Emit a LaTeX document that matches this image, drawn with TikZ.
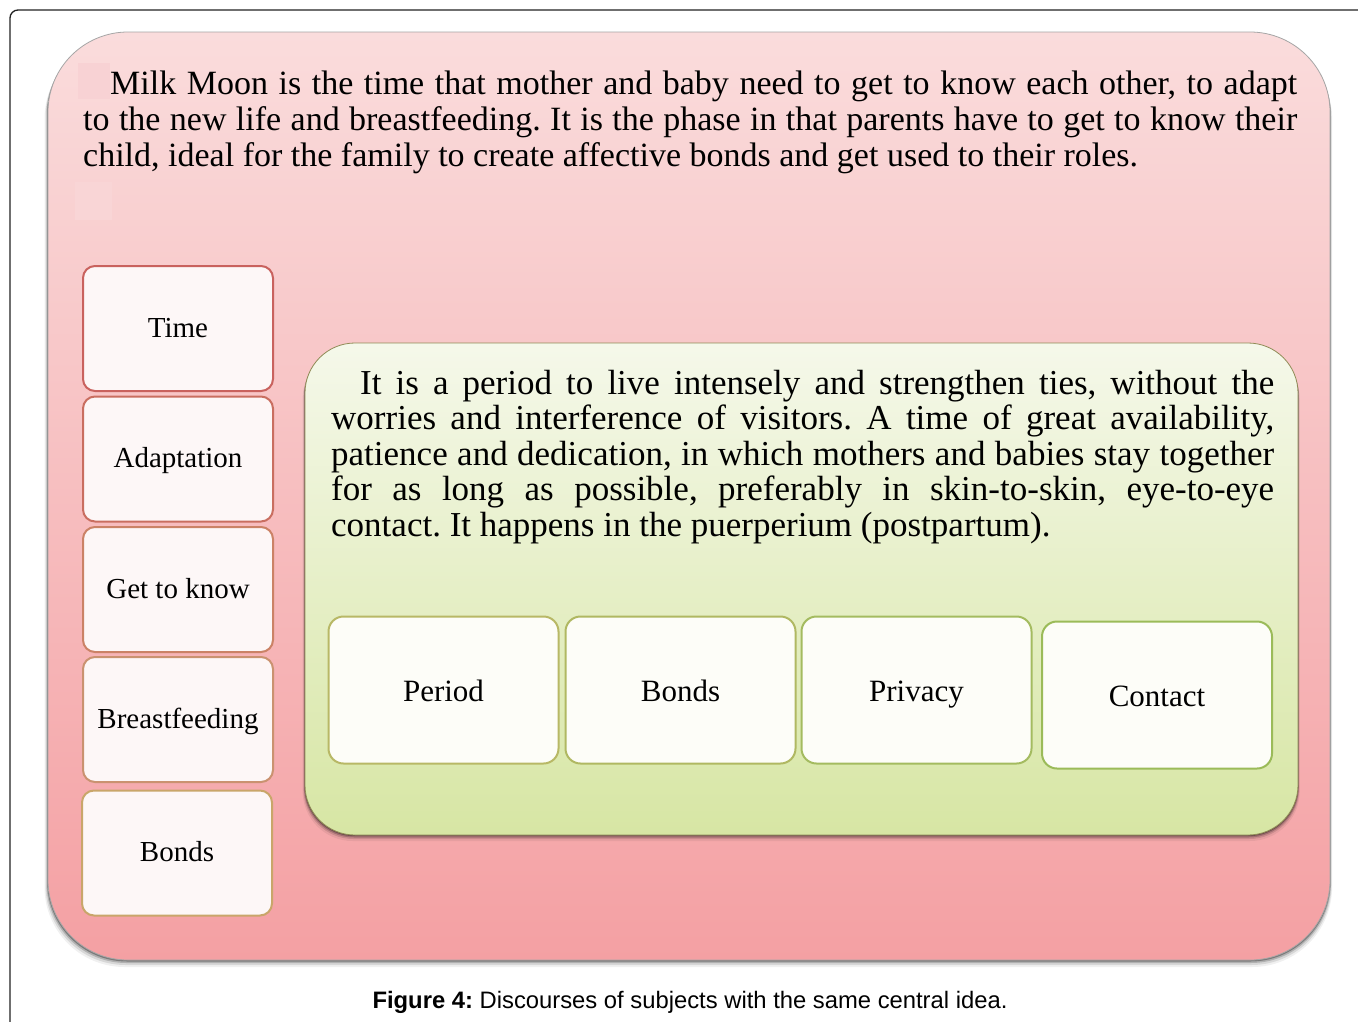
\documentclass[tikz,border=0pt]{standalone}
\usepackage{fontspec}
\setmainfont{Liberation Serif}
\newfontfamily\capfont{Liberation Sans}
\frenchspacing
\definecolor{pinkTop}{HTML}{FADCDC}
\definecolor{pinkBot}{HTML}{F4A0A3}
\definecolor{greenTop}{HTML}{F5F8EA}
\definecolor{greenBot}{HTML}{D7E6A4}
\definecolor{lbFill}{HTML}{FDF7F7}
\definecolor{sbFill}{HTML}{FDFDF8}
\definecolor{bTime}{HTML}{C9625E}
\definecolor{bAdapt}{HTML}{C96E60}
\definecolor{bKnow}{HTML}{CB8266}
\definecolor{bBreast}{HTML}{CA9270}
\definecolor{bBonds}{HTML}{C9A66A}
\definecolor{bPeriod}{HTML}{B8B866}
\definecolor{bBonds2}{HTML}{B0B862}
\definecolor{bPrivacy}{HTML}{A4BB60}
\definecolor{bContact}{HTML}{9BBB59}
\definecolor{frameCol}{HTML}{222222}
\definecolor{artifact}{HTML}{F8D2D4}
\tikzset{
  leftbox/.style={draw, line width=2pt, fill=lbFill, rounded corners=12pt,
    minimum width=190pt, minimum height=125pt, inner sep=0pt,
    text height=20pt, text depth=3pt,
    font=\fontsize{29}{32}\selectfont},
  subbox/.style={draw, line width=2pt, fill=sbFill, rounded corners=15pt,
    minimum width=230pt, minimum height=147pt, inner sep=0pt,
    text height=22pt, text depth=0pt,
    font=\fontsize{31}{34}\selectfont},
  paratext/.style={inner sep=0pt, align=justify, anchor=base west}
}
\begin{document}
\begin{tikzpicture}[x=1pt,y=-1pt]
\useasboundingbox (0,0) rectangle (1358,1021);
\fill[white] (0,0) rectangle (1358,1021);
% outer frame
\draw[frameCol, line width=1.3pt, rounded corners=8pt] (10,1030) -- (10,10) -- (1370,10);
% pink box shadow
\foreach \o/\a in {7/0.06,5/0.10,3/0.18,1.5/0.3}{
  \fill[black, opacity=\a, rounded corners=80pt] (48-0.5*\o,32+\o) rectangle (1330+0.3*\o,960+\o);
}
\shade[top color=pinkTop, bottom color=pinkBot, rounded corners=80pt, draw=gray!70, line width=0.8pt]
  (48,32) rectangle (1330,960);
\fill[artifact] (78,63) rectangle (110,99);
\fill[artifact!70!pinkTop] (75,182) rectangle (112,220);
% top text
\node[paratext, text width=1214pt, font=\fontsize{34}{36}\selectfont] (toptext) at (83,94)
  {\hspace*{27pt}Milk Moon is the time that mother and baby need to get to know each other, to adapt\linebreak to the new life and breastfeeding. It is the phase in that parents have to get to know their\linebreak child, ideal for the family to create affective bonds and get used to their roles.};
% green box shadow
\foreach \o/\a in {6/0.06,4/0.12,2.5/0.2,1.2/0.3}{
  \fill[black, opacity=\a, rounded corners=50pt] (305-0.4*\o,343+\o) rectangle (1298+0.3*\o,835+\o);
}
\shade[top color=greenTop, bottom color=greenBot, rounded corners=50pt, draw=gray!60!olive, line width=0.8pt]
  (305,343) rectangle (1298,835);
\node[paratext, text width=943pt, font=\fontsize{35}{35.5}\selectfont] (greentext) at (331,394)
  {\hspace*{29pt}It is a period to live intensely and strengthen ties, without the\linebreak worries and interference of visitors. A time of great availability,\linebreak patience and dedication, in which mothers and babies stay together\linebreak for as long as possible, preferably in skin-to-skin, eye-to-eye\linebreak contact. It happens in the puerperium (postpartum).};
% left boxes
\node[leftbox, draw=bTime] (time) at (178,328.5) {Time};
\node[leftbox, draw=bAdapt] (adapt) at (178,459) {Adaptation};
\node[leftbox, draw=bKnow] (know) at (178,589.5) {Get to know};
\node[leftbox, draw=bBreast] (breast) at (178,719.5) {Breastfeeding};
\node[leftbox, draw=bBonds] (bondsL) at (177,853) {Bonds};
% green sub boxes
\node[subbox, draw=bPeriod] (period) at (443.5,690) {Period};
\node[subbox, draw=bBonds2] (bondsG) at (680.5,690) {Bonds};
\node[subbox, draw=bPrivacy] (privacy) at (916.5,690) {Privacy};
\node[subbox, draw=bContact] (contact) at (1157,695) {Contact};
% caption
\node[inner sep=0pt, font=\capfont\fontsize{23.8}{26}\selectfont] (caption) at (690,1002)
  {\textbf{Figure 4:} Discourses of subjects with the same central idea.};
\end{tikzpicture}
\end{document}
